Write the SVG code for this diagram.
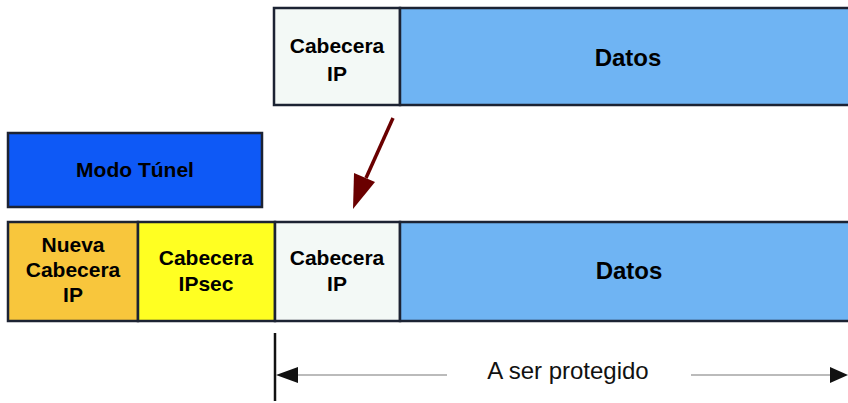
<svg xmlns="http://www.w3.org/2000/svg" width="848" height="403" viewBox="0 0 848 403">
  <style>
    .box { stroke: #1c2333; stroke-width: 2.5; }
    .lbl { font-family: "Liberation Sans", Arial, sans-serif; font-weight: bold; font-size: 21px; fill: #000; text-anchor: middle; }
    .big { font-size: 24px; }
    .dim { font-family: "Liberation Sans", Arial, sans-serif; font-size: 24px; fill: #111; text-anchor: middle; }
  </style>

  <!-- original packet -->
  <g id="ip-header-top">
    <rect class="box" x="274" y="8" width="126" height="97" fill="#f3f9f6"/>
    <text class="lbl" x="337" y="53">Cabecera</text>
    <text class="lbl" x="337" y="81">IP</text>
  </g>
  <g id="data-top">
    <rect class="box" x="400" y="8" width="460" height="97" fill="#6fb4f3"/>
    <text class="lbl big" x="628" y="66">Datos</text>
  </g>

  <!-- mode label -->
  <g id="tunnel-mode">
    <rect class="box" x="8" y="133" width="254" height="74" fill="#0e59f6"/>
    <text class="lbl" x="135" y="177">Modo Túnel</text>
  </g>

  <!-- encapsulated packet -->
  <g id="new-ip-header">
    <rect class="box" x="8" y="222" width="130" height="99" fill="#f8c63c"/>
    <text class="lbl" x="73" y="252">Nueva</text>
    <text class="lbl" x="73" y="277">Cabecera</text>
    <text class="lbl" x="73" y="302">IP</text>
  </g>
  <g id="ipsec-header">
    <rect class="box" x="138" y="222" width="137" height="99" fill="#ffff22"/>
    <text class="lbl" x="206" y="265">Cabecera</text>
    <text class="lbl" x="206" y="291">IPsec</text>
  </g>
  <g id="ip-header-bottom">
    <rect class="box" x="275" y="222" width="125" height="99" fill="#f3f9f6"/>
    <text class="lbl" x="337" y="265">Cabecera</text>
    <text class="lbl" x="337" y="291">IP</text>
  </g>
  <g id="data-bottom">
    <rect class="box" x="400" y="222" width="460" height="99" fill="#6fb4f3"/>
    <text class="lbl big" x="629" y="279">Datos</text>
  </g>

  <!-- connectors -->
  <g id="connectors">
    <line x1="393" y1="118" x2="366" y2="178" stroke="#6a0000" stroke-width="3.5"/>
    <polygon points="353,209 354,173 375,182" fill="#6a0000"/>

    <line x1="275" y1="333" x2="275" y2="401" stroke="#111" stroke-width="2.5"/>
    <line x1="295" y1="375" x2="447" y2="375" stroke="#bbbbbb" stroke-width="2"/>
    <line x1="691" y1="375" x2="830" y2="375" stroke="#bbbbbb" stroke-width="2"/>
    <polygon points="276,375 298,367 298,383" fill="#111"/>
    <polygon points="848,375 830,367 830,383" fill="#111"/>
    <text class="dim" x="568" y="379">A ser protegido</text>
  </g>
</svg>
